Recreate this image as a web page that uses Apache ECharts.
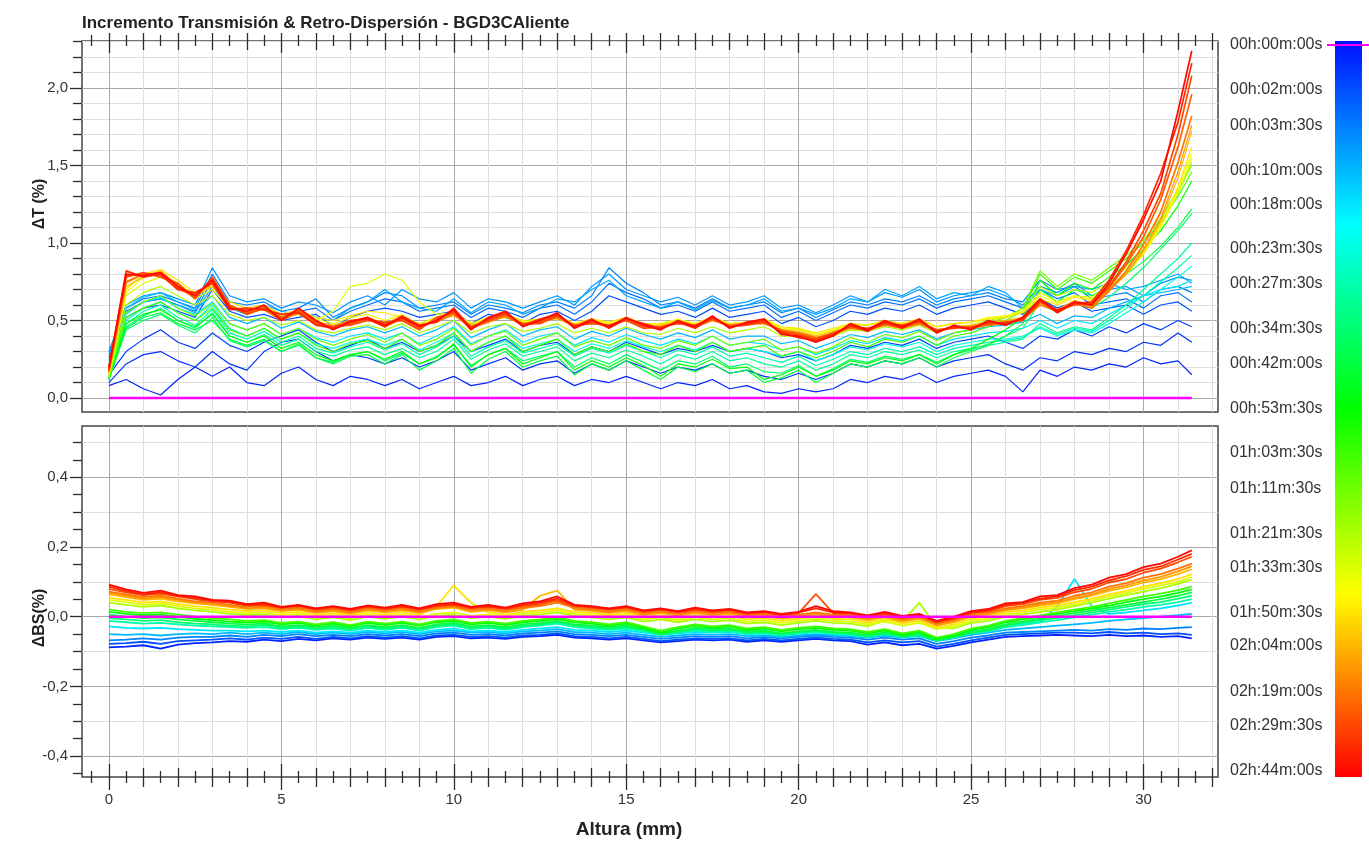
<!DOCTYPE html>
<html>
<head>
<meta charset="utf-8">
<title>Incremento Transmisión & Retro-Dispersión - BGD3CAliente</title>
<script src="https://cdn.jsdelivr.net/npm/echarts@6/dist/echarts.min.js"></script>
<style>
html, body { margin: 0; padding: 0; background: #fff; }
#main { width: 1369px; height: 841px; }
</style>
</head>
<body>
<div id="main"></div>
<script>
// Altura (mm) de cada punto de medida
const heights = [
  0, 0.5, 1, 1.5, 2, 2.5, 3, 3.5, 4, 4.5, 5, 5.5, 6, 6.5, 7, 7.5,
  8, 8.5, 9, 9.5, 10, 10.5, 11, 11.5, 12, 12.5, 13, 13.5, 14, 14.5, 15, 15.5,
  16, 16.5, 17, 17.5, 18, 18.5, 19, 19.5, 20, 20.5, 21, 21.5, 22, 22.5, 23, 23.5,
  24, 24.5, 25, 25.5, 26, 26.5, 27, 27.5, 28, 28.5, 29, 29.5, 30, 30.5, 31, 31.4
];

// escala de tiempos (etiquetas de la barra de color)
const scanLabels = ['00h:00m:00s', '00h:02m:00s', '00h:03m:30s', '00h:10m:00s', '00h:18m:00s',
  '00h:23m:30s', '00h:27m:30s', '00h:34m:30s', '00h:42m:00s', '00h:53m:30s', '01h:03m:30s',
  '01h:11m:30s', '01h:21m:30s', '01h:33m:30s', '01h:50m:30s', '02h:04m:00s', '02h:19m:00s',
  '02h:29m:30s', '02h:44m:00s'];
const scanLabelMin = [0, 2, 3.5, 10, 18, 23.5, 27.5, 34.5, 42, 53.5, 63.5, 71.5, 81.5, 93.5, 110.5, 124, 139, 149.5, 164];

// barrido de referencia (00h:00m:00s)
const ref_000 = [
  0, 0, 0, 0, 0, 0, 0, 0, 0, 0, 0, 0, 0, 0, 0, 0,
  0, 0, 0, 0, 0, 0, 0, 0, 0, 0, 0, 0, 0, 0, 0, 0,
  0, 0, 0, 0, 0, 0, 0, 0, 0, 0, 0, 0, 0, 0, 0, 0,
  0, 0, 0, 0, 0, 0, 0, 0, 0, 0, 0, 0, 0, 0, 0, 0
];

// ΔT (%) por barrido
const dT_0m30 = [
  0.08,0.12,0.06,0.02,0.12,0.20,0.14,0.20,0.10,0.08,0.16,0.20,0.12,0.08,0.14,0.12,
  0.08,0.12,0.06,0.10,0.14,0.08,0.10,0.14,0.08,0.12,0.14,0.08,0.12,0.10,0.14,0.10,
  0.06,0.10,0.08,0.12,0.06,0.08,0.04,0.03,0.06,0.04,0.06,0.12,0.10,0.14,0.12,0.16,
  0.10,0.14,0.16,0.18,0.14,0.04,0.18,0.14,0.20,0.18,0.22,0.20,0.26,0.22,0.24,0.15
];
const dT_1m00 = [
  0.10,0.22,0.28,0.30,0.24,0.20,0.30,0.22,0.18,0.30,0.36,0.38,0.30,0.24,0.28,0.26,
  0.22,0.26,0.20,0.24,0.30,0.18,0.22,0.26,0.18,0.22,0.24,0.16,0.22,0.18,0.24,0.20,
  0.16,0.20,0.18,0.22,0.16,0.18,0.14,0.12,0.16,0.12,0.16,0.22,0.20,0.24,0.22,0.26,
  0.20,0.24,0.26,0.28,0.22,0.18,0.26,0.24,0.30,0.28,0.32,0.30,0.36,0.34,0.42,0.36
];
const dT_1m30 = [
  0.15,0.30,0.38,0.44,0.36,0.32,0.42,0.34,0.30,0.36,0.40,0.44,0.36,0.30,0.34,0.38,
  0.32,0.36,0.30,0.34,0.40,0.30,0.34,0.38,0.30,0.34,0.36,0.28,0.33,0.30,0.36,0.32,
  0.28,0.32,0.30,0.34,0.30,0.32,0.30,0.26,0.28,0.24,0.28,0.34,0.32,0.36,0.34,0.38,
  0.32,0.36,0.38,0.40,0.36,0.32,0.40,0.38,0.44,0.40,0.46,0.42,0.48,0.44,0.50,0.46
];
const dT_2m00 = [
  0.24,0.52,0.58,0.60,0.56,0.52,0.70,0.56,0.52,0.54,0.50,0.52,0.54,0.46,0.52,0.56,
  0.58,0.56,0.52,0.54,0.56,0.48,0.54,0.52,0.48,0.54,0.56,0.50,0.56,0.66,0.62,0.58,
  0.54,0.56,0.52,0.58,0.52,0.54,0.56,0.48,0.52,0.46,0.50,0.56,0.54,0.58,0.56,0.60,
  0.54,0.58,0.60,0.62,0.58,0.54,0.64,0.58,0.62,0.56,0.58,0.60,0.54,0.60,0.62,0.56
];
const dT_3m00 = [
  0.26,0.56,0.62,0.64,0.60,0.56,0.76,0.60,0.56,0.58,0.54,0.56,0.58,0.50,0.56,0.60,
  0.64,0.62,0.56,0.58,0.60,0.52,0.58,0.56,0.52,0.58,0.60,0.54,0.62,0.74,0.68,0.64,
  0.58,0.60,0.56,0.62,0.56,0.58,0.60,0.52,0.56,0.50,0.55,0.60,0.58,0.62,0.60,0.64,
  0.58,0.62,0.64,0.66,0.62,0.58,0.70,0.64,0.68,0.60,0.62,0.64,0.58,0.66,0.68,0.62
];
const dT_4m00 = [
  0.28,0.58,0.64,0.66,0.62,0.58,0.80,0.62,0.60,0.62,0.56,0.58,0.64,0.52,0.58,0.62,
  0.68,0.66,0.58,0.60,0.62,0.54,0.60,0.58,0.55,0.60,0.62,0.58,0.66,0.84,0.74,0.68,
  0.60,0.62,0.58,0.64,0.58,0.60,0.62,0.55,0.58,0.52,0.57,0.62,0.60,0.64,0.62,0.66,
  0.60,0.64,0.66,0.68,0.64,0.62,0.76,0.70,0.72,0.64,0.66,0.68,0.62,0.70,0.72,0.68
];
const dT_6m00 = [
  0.30,0.60,0.66,0.68,0.64,0.60,0.84,0.66,0.62,0.64,0.58,0.62,0.60,0.55,0.62,0.66,
  0.60,0.70,0.64,0.62,0.68,0.58,0.64,0.62,0.58,0.62,0.66,0.60,0.72,0.80,0.70,0.66,
  0.62,0.65,0.60,0.66,0.60,0.62,0.66,0.58,0.60,0.55,0.60,0.66,0.62,0.68,0.65,0.70,
  0.62,0.66,0.68,0.70,0.66,0.60,0.72,0.68,0.74,0.66,0.70,0.72,0.66,0.74,0.78,0.76
];
const dT_8m00 = [
  0.22,0.55,0.62,0.64,0.60,0.55,0.72,0.58,0.54,0.60,0.56,0.54,0.52,0.50,0.58,0.62,
  0.70,0.62,0.58,0.56,0.64,0.55,0.62,0.60,0.54,0.58,0.64,0.62,0.70,0.76,0.66,0.62,
  0.58,0.62,0.57,0.63,0.58,0.60,0.64,0.56,0.58,0.54,0.58,0.64,0.62,0.70,0.66,0.72,
  0.64,0.68,0.66,0.72,0.68,0.58,0.70,0.66,0.72,0.70,0.74,0.70,0.72,0.76,0.80,0.74
];
const dT_10m00 = [
  0.16,0.58,0.65,0.68,0.62,0.57,0.66,0.52,0.48,0.52,0.45,0.49,0.43,0.40,0.44,0.46,
  0.42,0.46,0.40,0.44,0.50,0.39,0.44,0.48,0.40,0.44,0.46,0.38,0.43,0.40,0.45,0.41,
  0.38,0.42,0.39,0.44,0.38,0.40,0.40,0.35,0.37,0.32,0.36,0.41,0.39,0.43,0.41,0.44,
  0.38,0.42,0.44,0.46,0.47,0.49,0.54,0.48,0.53,0.52,0.58,0.62,0.66,0.68,0.70,0.72
];
const dT_18m00 = [
  0.15,0.54,0.62,0.65,0.58,0.54,0.62,0.48,0.44,0.48,0.41,0.45,0.39,0.36,0.40,0.42,
  0.38,0.42,0.35,0.40,0.46,0.35,0.40,0.44,0.36,0.40,0.42,0.34,0.39,0.36,0.41,0.37,
  0.34,0.38,0.35,0.40,0.34,0.36,0.35,0.31,0.33,0.28,0.32,0.37,0.35,0.39,0.37,0.40,
  0.34,0.38,0.40,0.42,0.43,0.45,0.50,0.45,0.50,0.48,0.54,0.60,0.66,0.70,0.72,0.76
];
const dT_23m30 = [
  0.14,0.50,0.58,0.62,0.55,0.50,0.60,0.45,0.40,0.45,0.38,0.42,0.35,0.32,0.36,0.38,
  0.34,0.38,0.31,0.36,0.42,0.30,0.36,0.40,0.32,0.35,0.38,0.30,0.35,0.32,0.37,0.33,
  0.30,0.34,0.31,0.36,0.30,0.32,0.30,0.27,0.30,0.24,0.28,0.33,0.31,0.35,0.33,0.36,
  0.30,0.34,0.36,0.38,0.38,0.40,0.45,0.40,0.44,0.42,0.48,0.55,0.62,0.70,0.78,0.85
];
const dT_27m30 = [
  0.14,0.48,0.56,0.60,0.52,0.47,0.57,0.42,0.38,0.43,0.36,0.40,0.32,0.29,0.33,0.36,
  0.31,0.35,0.28,0.33,0.40,0.27,0.33,0.37,0.29,0.32,0.35,0.27,0.32,0.29,0.34,0.30,
  0.26,0.31,0.28,0.33,0.27,0.29,0.26,0.23,0.27,0.21,0.25,0.30,0.28,0.32,0.30,0.33,
  0.28,0.32,0.34,0.36,0.37,0.39,0.46,0.41,0.45,0.43,0.50,0.58,0.66,0.75,0.84,0.92
];
const dT_30m00 = [
  0.13,0.46,0.53,0.58,0.50,0.45,0.55,0.40,0.36,0.41,0.34,0.38,0.30,0.27,0.31,0.33,
  0.28,0.32,0.26,0.30,0.38,0.25,0.31,0.35,0.27,0.30,0.33,0.24,0.29,0.26,0.31,0.27,
  0.22,0.28,0.25,0.30,0.24,0.26,0.22,0.20,0.24,0.18,0.22,0.28,0.26,0.30,0.28,0.31,
  0.26,0.30,0.32,0.34,0.36,0.38,0.48,0.42,0.46,0.44,0.52,0.60,0.70,0.80,0.90,1.00
];
const dT_34m30 = [
  0.12,0.44,0.50,0.54,0.47,0.42,0.52,0.37,0.33,0.37,0.30,0.34,0.26,0.23,0.28,0.30,
  0.24,0.29,0.22,0.27,0.34,0.21,0.28,0.32,0.24,0.27,0.30,0.20,0.26,0.22,0.28,0.23,
  0.18,0.24,0.22,0.27,0.20,0.22,0.17,0.16,0.21,0.14,0.19,0.25,0.23,0.27,0.25,0.28,
  0.23,0.28,0.31,0.35,0.40,0.45,0.62,0.55,0.62,0.58,0.65,0.74,0.84,0.96,1.08,1.19
];
const dT_42m00 = [
  0.12,0.45,0.52,0.55,0.48,0.44,0.50,0.38,0.34,0.38,0.30,0.35,0.26,0.22,0.27,0.28,
  0.22,0.28,0.18,0.24,0.32,0.16,0.25,0.30,0.20,0.24,0.27,0.15,0.22,0.18,0.24,0.18,
  0.12,0.20,0.17,0.22,0.16,0.18,0.10,0.13,0.18,0.10,0.16,0.22,0.20,0.24,0.22,0.26,
  0.20,0.26,0.30,0.34,0.40,0.48,0.70,0.62,0.70,0.66,0.72,0.80,0.88,0.98,1.10,1.22
];
const dT_53m30 = [
  0.12,0.48,0.54,0.57,0.50,0.46,0.54,0.40,0.36,0.40,0.32,0.36,0.28,0.24,0.28,0.30,
  0.25,0.30,0.22,0.26,0.35,0.20,0.28,0.32,0.22,0.26,0.30,0.18,0.24,0.20,0.26,0.21,
  0.14,0.22,0.20,0.25,0.19,0.20,0.12,0.15,0.20,0.14,0.18,0.24,0.22,0.26,0.24,0.28,
  0.22,0.28,0.32,0.38,0.44,0.52,0.76,0.66,0.74,0.70,0.78,0.86,0.96,1.08,1.24,1.40
];
const dT_63m30 = [
  0.13,0.52,0.58,0.62,0.55,0.50,0.58,0.44,0.40,0.45,0.38,0.42,0.34,0.30,0.35,0.37,
  0.32,0.38,0.30,0.34,0.42,0.30,0.36,0.40,0.30,0.34,0.38,0.28,0.33,0.30,0.35,0.30,
  0.28,0.34,0.30,0.36,0.30,0.32,0.34,0.27,0.30,0.26,0.30,0.36,0.33,0.38,0.36,0.40,
  0.34,0.40,0.42,0.46,0.50,0.56,0.80,0.70,0.78,0.74,0.82,0.90,1.00,1.14,1.30,1.46
];
const dT_71m30 = [
  0.13,0.55,0.62,0.66,0.58,0.53,0.61,0.48,0.44,0.48,0.41,0.45,0.38,0.34,0.38,0.41,
  0.36,0.42,0.34,0.38,0.45,0.34,0.40,0.43,0.34,0.38,0.42,0.33,0.37,0.34,0.39,0.34,
  0.32,0.37,0.34,0.40,0.34,0.36,0.38,0.31,0.33,0.29,0.33,0.39,0.36,0.41,0.39,0.43,
  0.37,0.42,0.44,0.48,0.52,0.58,0.82,0.72,0.80,0.76,0.84,0.92,1.02,1.16,1.34,1.50
];
const dT_81m30 = [
  0.14,0.60,0.68,0.72,0.66,0.60,0.66,0.54,0.50,0.52,0.47,0.50,0.44,0.42,0.45,0.47,
  0.44,0.48,0.42,0.46,0.50,0.42,0.46,0.48,0.43,0.45,0.48,0.42,0.45,0.42,0.46,0.42,
  0.41,0.45,0.42,0.46,0.42,0.44,0.46,0.40,0.40,0.37,0.40,0.44,0.43,0.46,0.44,0.47,
  0.42,0.46,0.47,0.50,0.52,0.56,0.72,0.66,0.70,0.68,0.75,0.84,0.96,1.12,1.32,1.52
];
const dT_93m30 = [
  0.15,0.66,0.74,0.78,0.72,0.64,0.70,0.58,0.55,0.57,0.52,0.55,0.50,0.56,0.72,0.74,
  0.80,0.76,0.62,0.54,0.55,0.48,0.52,0.53,0.49,0.50,0.52,0.47,0.50,0.48,0.51,0.47,
  0.47,0.50,0.47,0.51,0.47,0.48,0.50,0.45,0.44,0.41,0.44,0.47,0.47,0.49,0.48,0.50,
  0.46,0.48,0.49,0.51,0.53,0.56,0.68,0.62,0.66,0.65,0.73,0.80,0.93,1.10,1.32,1.55
];
const dT_100m00 = [
  0.15,0.68,0.78,0.80,0.74,0.66,0.72,0.60,0.56,0.59,0.53,0.56,0.51,0.48,0.52,0.54,
  0.50,0.54,0.47,0.52,0.55,0.48,0.51,0.54,0.49,0.51,0.53,0.48,0.51,0.48,0.52,0.48,
  0.48,0.51,0.48,0.52,0.48,0.49,0.51,0.45,0.45,0.41,0.44,0.48,0.47,0.50,0.48,0.51,
  0.46,0.48,0.49,0.52,0.53,0.56,0.66,0.61,0.66,0.64,0.72,0.80,0.93,1.10,1.34,1.58
];
const dT_110m30 = [
  0.15,0.70,0.80,0.83,0.76,0.68,0.72,0.62,0.58,0.60,0.54,0.57,0.52,0.50,0.53,0.56,
  0.55,0.52,0.48,0.52,0.54,0.48,0.51,0.54,0.50,0.51,0.52,0.48,0.51,0.49,0.52,0.48,
  0.48,0.50,0.48,0.52,0.48,0.49,0.51,0.46,0.45,0.42,0.45,0.48,0.47,0.50,0.48,0.51,
  0.46,0.48,0.49,0.51,0.52,0.55,0.64,0.60,0.65,0.63,0.72,0.80,0.94,1.12,1.36,1.62
];
const dT_124m00 = [
  0.16,0.72,0.78,0.82,0.73,0.66,0.72,0.60,0.55,0.58,0.52,0.54,0.49,0.47,0.50,0.52,
  0.48,0.53,0.46,0.51,0.53,0.47,0.50,0.52,0.48,0.50,0.51,0.47,0.50,0.47,0.50,0.46,
  0.47,0.49,0.47,0.51,0.46,0.48,0.50,0.44,0.43,0.40,0.43,0.46,0.45,0.48,0.46,0.49,
  0.44,0.46,0.47,0.49,0.50,0.52,0.62,0.57,0.63,0.60,0.70,0.80,0.95,1.14,1.42,1.72
];
const dT_131m00 = [
  0.17,0.74,0.80,0.81,0.72,0.66,0.75,0.59,0.56,0.58,0.51,0.55,0.49,0.46,0.49,0.51,
  0.47,0.52,0.46,0.50,0.55,0.46,0.50,0.53,0.47,0.50,0.53,0.46,0.50,0.46,0.51,0.46,
  0.46,0.49,0.46,0.51,0.46,0.48,0.49,0.43,0.42,0.39,0.42,0.46,0.45,0.48,0.46,0.49,
  0.43,0.46,0.46,0.48,0.49,0.52,0.61,0.56,0.62,0.59,0.69,0.80,0.96,1.16,1.46,1.76
];
const dT_139m00 = [
  0.17,0.75,0.80,0.80,0.70,0.67,0.74,0.58,0.57,0.57,0.50,0.55,0.50,0.45,0.48,0.51,
  0.46,0.51,0.47,0.49,0.54,0.45,0.49,0.53,0.47,0.49,0.52,0.46,0.49,0.46,0.51,0.47,
  0.45,0.49,0.46,0.50,0.47,0.48,0.48,0.44,0.42,0.39,0.41,0.45,0.44,0.47,0.45,0.48,
  0.43,0.46,0.45,0.47,0.48,0.51,0.60,0.56,0.61,0.58,0.69,0.82,0.99,1.20,1.52,1.82
];
const dT_144m00 = [
  0.18,0.79,0.80,0.79,0.71,0.65,0.77,0.59,0.55,0.59,0.51,0.57,0.49,0.45,0.48,0.51,
  0.48,0.51,0.45,0.51,0.56,0.45,0.51,0.55,0.47,0.49,0.54,0.46,0.49,0.46,0.51,0.46,
  0.45,0.49,0.46,0.52,0.46,0.48,0.50,0.42,0.41,0.37,0.41,0.47,0.44,0.49,0.46,0.50,
  0.43,0.46,0.45,0.49,0.48,0.51,0.63,0.56,0.61,0.60,0.71,0.86,1.04,1.28,1.62,1.96
];
const dT_149m30 = [
  0.18,0.78,0.81,0.78,0.74,0.64,0.78,0.60,0.54,0.58,0.52,0.56,0.48,0.46,0.47,0.50,
  0.49,0.50,0.44,0.52,0.55,0.46,0.50,0.54,0.48,0.48,0.53,0.47,0.48,0.47,0.50,0.45,
  0.46,0.48,0.47,0.51,0.46,0.47,0.49,0.43,0.41,0.38,0.42,0.46,0.45,0.48,0.47,0.49,
  0.44,0.45,0.46,0.48,0.49,0.50,0.62,0.57,0.60,0.61,0.72,0.88,1.08,1.32,1.70,2.08
];
const dT_157m00 = [
  0.19,0.82,0.78,0.80,0.70,0.68,0.74,0.57,0.58,0.57,0.54,0.55,0.47,0.45,0.50,0.51,
  0.46,0.53,0.47,0.49,0.58,0.45,0.51,0.55,0.47,0.51,0.54,0.46,0.51,0.45,0.51,0.48,
  0.45,0.49,0.45,0.52,0.46,0.48,0.50,0.42,0.39,0.37,0.41,0.47,0.43,0.49,0.45,0.50,
  0.43,0.46,0.45,0.49,0.48,0.51,0.63,0.55,0.61,0.62,0.76,0.95,1.18,1.45,1.78,2.16
];
const dT_164m00 = [
  0.20,0.80,0.79,0.81,0.72,0.66,0.76,0.58,0.56,0.60,0.50,0.58,0.50,0.44,0.49,0.52,
  0.47,0.52,0.46,0.50,0.57,0.44,0.52,0.56,0.46,0.50,0.55,0.45,0.50,0.46,0.52,0.47,
  0.44,0.50,0.46,0.53,0.45,0.49,0.51,0.41,0.40,0.36,0.40,0.48,0.44,0.50,0.46,0.51,
  0.42,0.47,0.44,0.50,0.47,0.52,0.64,0.56,0.62,0.60,0.74,0.93,1.15,1.40,1.85,2.24
];

// ΔBS (%) por barrido
const dBS_0m30 = [
  -0.088,-0.086,-0.082,-0.092,-0.080,-0.076,-0.074,-0.070,-0.072,-0.066,-0.070,-0.064,-0.068,-0.062,-0.066,-0.060,
  -0.064,-0.060,-0.066,-0.058,-0.056,-0.062,-0.060,-0.064,-0.058,-0.056,-0.052,-0.060,-0.062,-0.066,-0.062,-0.068,
  -0.074,-0.070,-0.066,-0.068,-0.066,-0.072,-0.068,-0.072,-0.068,-0.064,-0.068,-0.070,-0.080,-0.074,-0.082,-0.078,
  -0.092,-0.084,-0.074,-0.066,-0.058,-0.056,-0.054,-0.052,-0.054,-0.056,-0.052,-0.056,-0.054,-0.058,-0.056,-0.062
];
const dBS_2m00 = [
  -0.078,-0.076,-0.072,-0.078,-0.070,-0.068,-0.066,-0.062,-0.066,-0.060,-0.064,-0.058,-0.064,-0.058,-0.062,-0.056,
  -0.060,-0.056,-0.062,-0.054,-0.052,-0.058,-0.056,-0.060,-0.054,-0.052,-0.048,-0.056,-0.058,-0.062,-0.058,-0.064,
  -0.070,-0.066,-0.062,-0.064,-0.062,-0.068,-0.064,-0.068,-0.064,-0.060,-0.064,-0.066,-0.074,-0.068,-0.074,-0.070,
  -0.086,-0.078,-0.068,-0.060,-0.052,-0.050,-0.048,-0.046,-0.046,-0.048,-0.044,-0.048,-0.046,-0.050,-0.048,-0.052
];
const dBS_4m00 = [
  -0.068,-0.066,-0.062,-0.066,-0.060,-0.058,-0.058,-0.054,-0.058,-0.052,-0.056,-0.050,-0.056,-0.052,-0.056,-0.050,
  -0.054,-0.050,-0.056,-0.048,-0.046,-0.052,-0.050,-0.054,-0.048,-0.046,-0.042,-0.050,-0.052,-0.056,-0.052,-0.058,
  -0.064,-0.060,-0.056,-0.058,-0.056,-0.062,-0.058,-0.062,-0.058,-0.054,-0.058,-0.060,-0.066,-0.060,-0.066,-0.062,
  -0.078,-0.070,-0.060,-0.054,-0.046,-0.044,-0.042,-0.040,-0.038,-0.040,-0.036,-0.038,-0.034,-0.036,-0.032,-0.030
];
const dBS_10m00 = [
  -0.050,-0.052,-0.050,-0.054,-0.050,-0.048,-0.050,-0.046,-0.050,-0.046,-0.050,-0.044,-0.050,-0.046,-0.050,-0.044,
  -0.048,-0.044,-0.050,-0.042,-0.040,-0.046,-0.044,-0.048,-0.042,-0.040,-0.036,-0.044,-0.046,-0.050,-0.046,-0.052,
  -0.058,-0.054,-0.050,-0.052,-0.050,-0.056,-0.054,-0.058,-0.054,-0.050,-0.054,-0.056,-0.060,-0.054,-0.060,-0.056,
  -0.070,-0.062,-0.052,-0.046,-0.038,-0.034,-0.030,-0.026,-0.022,-0.018,-0.012,-0.008,-0.004,0.000,0.004,0.008
];
const dBS_18m00 = [
  -0.028,-0.032,-0.034,-0.032,-0.036,-0.038,-0.040,-0.040,-0.042,-0.040,-0.044,-0.040,-0.046,-0.042,-0.046,-0.040,
  -0.044,-0.040,-0.046,-0.038,-0.034,-0.042,-0.040,-0.044,-0.038,-0.034,-0.030,-0.038,-0.040,-0.044,-0.040,-0.046,
  -0.052,-0.048,-0.044,-0.046,-0.044,-0.050,-0.048,-0.052,-0.048,-0.044,-0.048,-0.050,-0.054,-0.046,-0.054,-0.050,
  -0.062,-0.054,-0.044,-0.038,-0.028,-0.022,-0.016,0.030,0.108,0.030,0.008,0.012,0.018,0.024,0.032,0.040
];
const dBS_27m30 = [
  -0.012,-0.016,-0.020,-0.018,-0.022,-0.026,-0.028,-0.030,-0.032,-0.030,-0.036,-0.032,-0.038,-0.034,-0.040,-0.032,
  -0.038,-0.032,-0.040,-0.030,-0.026,-0.036,-0.032,-0.038,-0.030,-0.026,-0.020,-0.030,-0.034,-0.038,-0.034,-0.042,
  -0.050,-0.046,-0.040,-0.044,-0.042,-0.050,-0.048,-0.054,-0.048,-0.044,-0.050,-0.052,-0.058,-0.050,-0.058,-0.054,
  -0.068,-0.060,-0.048,-0.042,-0.030,-0.024,-0.016,-0.010,-0.002,0.006,0.014,0.020,0.028,0.034,0.042,0.050
];
const dBS_34m30 = [
  -0.004,-0.008,-0.012,-0.010,-0.016,-0.020,-0.022,-0.026,-0.028,-0.024,-0.032,-0.028,-0.034,-0.030,-0.036,-0.028,
  -0.034,-0.028,-0.036,-0.026,-0.022,-0.032,-0.028,-0.034,-0.026,-0.022,-0.016,-0.026,-0.030,-0.034,-0.030,-0.038,
  -0.046,-0.044,-0.036,-0.040,-0.038,-0.046,-0.044,-0.050,-0.044,-0.040,-0.046,-0.048,-0.056,-0.048,-0.056,-0.052,
  -0.068,-0.058,-0.046,-0.040,-0.026,-0.018,-0.010,-0.004,0.004,0.012,0.020,0.028,0.036,0.042,0.052,0.060
];
const dBS_42m00 = [
  0.006,0.000,-0.004,-0.002,-0.008,-0.012,-0.016,-0.020,-0.022,-0.020,-0.028,-0.024,-0.030,-0.026,-0.032,-0.024,
  -0.030,-0.024,-0.032,-0.022,-0.018,-0.028,-0.024,-0.030,-0.022,-0.018,-0.012,-0.022,-0.026,-0.030,-0.026,-0.036,
  -0.052,-0.040,-0.032,-0.036,-0.034,-0.042,-0.040,-0.048,-0.042,-0.038,-0.044,-0.046,-0.054,-0.046,-0.056,-0.050,
  -0.068,-0.058,-0.044,-0.036,-0.022,-0.014,-0.006,0.002,0.010,0.018,0.026,0.034,0.042,0.050,0.060,0.070
];
const dBS_53m30 = [
  0.014,0.008,0.004,0.006,0.000,-0.006,-0.010,-0.014,-0.016,-0.014,-0.022,-0.018,-0.026,-0.020,-0.028,-0.018,
  -0.024,-0.018,-0.026,-0.016,-0.012,-0.022,-0.018,-0.024,-0.016,-0.012,-0.006,-0.016,-0.020,-0.026,-0.020,-0.032,
  -0.046,-0.034,-0.026,-0.032,-0.028,-0.038,-0.034,-0.042,-0.036,-0.032,-0.038,-0.040,-0.048,-0.040,-0.052,-0.044,
  -0.064,-0.054,-0.038,-0.030,-0.016,-0.008,0.000,0.008,0.016,0.024,0.032,0.042,0.050,0.058,0.068,0.078
];
const dBS_63m30 = [
  0.020,0.014,0.010,0.012,0.006,0.000,-0.004,-0.008,-0.012,-0.010,-0.018,-0.014,-0.022,-0.016,-0.024,-0.014,
  -0.020,-0.014,-0.022,-0.012,-0.008,-0.018,-0.014,-0.020,-0.012,-0.008,-0.002,-0.012,-0.016,-0.022,-0.016,-0.028,
  -0.040,-0.030,-0.022,-0.028,-0.024,-0.034,-0.030,-0.038,-0.032,-0.028,-0.034,-0.036,-0.044,-0.036,-0.048,-0.040,
  -0.060,-0.050,-0.034,-0.026,-0.012,-0.004,0.004,0.012,0.020,0.028,0.038,0.048,0.058,0.066,0.076,0.086
];
const dBS_81m30 = [
  0.040,0.034,0.028,0.032,0.024,0.018,0.014,0.008,0.004,0.006,-0.002,0.002,-0.008,-0.002,-0.010,0.000,
  -0.006,0.000,-0.008,0.002,0.006,-0.004,0.000,-0.006,0.002,0.006,0.012,0.002,-0.002,-0.008,-0.002,-0.014,
  -0.008,-0.016,-0.008,-0.014,-0.010,-0.020,-0.016,-0.024,-0.018,-0.012,-0.018,-0.020,-0.028,-0.010,-0.014,0.040,
  -0.030,-0.034,-0.018,-0.012,0.000,0.006,0.014,0.020,0.030,0.040,0.052,0.062,0.072,0.082,0.094,0.106
];
const dBS_93m30 = [
  0.048,0.042,0.034,0.038,0.030,0.024,0.020,0.014,0.010,0.012,0.004,0.008,-0.002,0.004,-0.004,0.006,
  0.000,0.006,-0.002,0.008,0.012,0.002,0.006,0.000,0.008,0.012,0.018,0.008,0.004,-0.002,0.004,-0.008,
  -0.002,-0.010,-0.002,-0.008,-0.004,-0.014,-0.010,-0.018,-0.012,-0.006,-0.012,-0.014,-0.022,-0.014,-0.026,-0.018,
  -0.036,-0.028,-0.012,-0.006,0.006,0.012,0.020,0.026,0.036,0.046,0.058,0.068,0.080,0.090,0.100,0.114
];
const dBS_110m30 = [
  0.054,0.048,0.040,0.044,0.036,0.030,0.026,0.020,0.016,0.018,0.010,0.014,0.004,0.010,0.002,0.012,
  0.006,0.012,0.004,0.030,0.090,0.040,0.012,0.006,0.014,0.018,0.024,0.014,0.010,0.004,0.010,-0.002,
  0.004,-0.004,0.004,-0.002,0.002,-0.008,-0.004,-0.012,-0.006,0.000,-0.006,-0.008,-0.016,-0.008,-0.020,-0.012,
  -0.032,-0.022,-0.006,0.000,0.012,0.018,0.026,0.032,0.042,0.052,0.064,0.074,0.086,0.096,0.108,0.122
];
const dBS_124m00 = [
  0.064,0.056,0.048,0.052,0.044,0.038,0.034,0.028,0.022,0.024,0.016,0.020,0.010,0.016,0.008,0.018,
  0.012,0.018,0.010,0.022,0.026,0.014,0.018,0.012,0.020,0.060,0.075,0.020,0.016,0.010,0.016,0.004,
  0.010,0.002,0.010,0.004,0.008,-0.002,0.002,-0.006,0.000,0.006,0.000,-0.002,-0.010,-0.002,-0.014,-0.006,
  -0.026,-0.016,0.000,0.006,0.018,0.024,0.032,0.038,0.050,0.060,0.074,0.084,0.098,0.108,0.122,0.136
];
const dBS_131m00 = [
  0.068,0.060,0.052,0.056,0.048,0.040,0.036,0.030,0.024,0.026,0.018,0.022,0.012,0.018,0.010,0.020,
  0.014,0.020,0.012,0.024,0.028,0.016,0.020,0.014,0.022,0.034,0.050,0.022,0.018,0.012,0.018,0.006,
  0.012,0.004,0.012,0.006,0.010,0.000,0.004,-0.004,0.002,0.008,0.002,0.000,-0.008,0.000,-0.012,-0.004,
  -0.024,-0.014,0.002,0.008,0.020,0.026,0.036,0.042,0.054,0.064,0.080,0.090,0.104,0.114,0.130,0.144
];
const dBS_139m00 = [
  0.072,0.064,0.056,0.060,0.052,0.044,0.040,0.034,0.028,0.030,0.022,0.026,0.016,0.022,0.014,0.024,
  0.018,0.024,0.016,0.026,0.030,0.020,0.024,0.018,0.026,0.030,0.040,0.026,0.022,0.016,0.022,0.010,
  0.016,0.008,0.016,0.010,0.014,0.004,0.008,0.000,0.006,0.012,0.006,0.004,-0.004,0.004,-0.008,0.000,
  -0.020,-0.010,0.006,0.012,0.024,0.030,0.040,0.046,0.060,0.070,0.086,0.096,0.112,0.122,0.138,0.152
];
const dBS_149m30 = [
  0.080,0.070,0.062,0.066,0.058,0.050,0.044,0.040,0.032,0.034,0.026,0.030,0.020,0.026,0.018,0.028,
  0.022,0.028,0.020,0.030,0.034,0.024,0.028,0.022,0.030,0.036,0.046,0.030,0.026,0.020,0.026,0.014,
  0.020,0.012,0.020,0.014,0.018,0.008,0.012,0.004,0.010,0.065,0.010,0.008,0.000,0.008,-0.004,0.004,
  -0.016,-0.006,0.010,0.016,0.030,0.036,0.048,0.054,0.070,0.080,0.098,0.108,0.126,0.138,0.156,0.172
];
const dBS_157m00 = [
  0.086,0.074,0.064,0.070,0.060,0.054,0.046,0.042,0.034,0.036,0.026,0.032,0.022,0.028,0.020,0.030,
  0.024,0.030,0.022,0.032,0.036,0.026,0.030,0.024,0.034,0.040,0.052,0.032,0.028,0.022,0.028,0.016,
  0.022,0.014,0.022,0.016,0.020,0.010,0.014,0.006,0.012,0.024,0.012,0.010,0.002,0.010,-0.002,0.006,
  -0.014,-0.004,0.012,0.018,0.034,0.040,0.052,0.058,0.076,0.086,0.104,0.116,0.134,0.144,0.164,0.180
];
const dBS_164m00 = [
  0.092,0.078,0.068,0.075,0.062,0.058,0.048,0.046,0.036,0.040,0.028,0.034,0.024,0.030,0.022,0.032,
  0.026,0.034,0.024,0.036,0.040,0.028,0.034,0.026,0.038,0.044,0.058,0.034,0.030,0.024,0.030,0.018,
  0.024,0.016,0.026,0.018,0.022,0.012,0.016,0.008,0.014,0.030,0.016,0.012,0.004,0.014,0.002,0.008,
  -0.012,0.000,0.016,0.022,0.038,0.042,0.058,0.062,0.082,0.092,0.112,0.122,0.142,0.152,0.172,0.190
];

// barridos: [minutos, valores]
const transScans = [
  [0.5, dT_0m30], [1, dT_1m00], [1.5, dT_1m30], [2, dT_2m00], [3, dT_3m00], [4, dT_4m00],
  [6, dT_6m00], [8, dT_8m00], [10, dT_10m00], [18, dT_18m00], [23.5, dT_23m30], [27.5, dT_27m30],
  [30, dT_30m00], [34.5, dT_34m30], [42, dT_42m00], [53.5, dT_53m30], [63.5, dT_63m30],
  [71.5, dT_71m30], [81.5, dT_81m30], [93.5, dT_93m30], [100, dT_100m00], [110.5, dT_110m30],
  [124, dT_124m00], [131, dT_131m00], [139, dT_139m00], [144, dT_144m00], [149.5, dT_149m30],
  [157, dT_157m00], [164, dT_164m00]
];
const backScans = [
  [0.5, dBS_0m30], [2, dBS_2m00], [4, dBS_4m00], [10, dBS_10m00], [18, dBS_18m00], [27.5, dBS_27m30],
  [34.5, dBS_34m30], [42, dBS_42m00], [53.5, dBS_53m30], [63.5, dBS_63m30], [81.5, dBS_81m30],
  [93.5, dBS_93m30], [110.5, dBS_110m30], [124, dBS_124m00], [131, dBS_131m00], [139, dBS_139m00],
  [149.5, dBS_149m30], [157, dBS_157m00], [164, dBS_164m00]
];

transScans.concat(backScans).forEach(function (s) {
  if (s[1].length !== heights.length) throw new Error('scan ' + s[0] + ' has ' + s[1].length + ' values');
});

// ---- layout ----
const FONT = '"Liberation Sans", Arial, Helvetica, sans-serif';
const X_MIN = -0.78, X_MAX = 32.16;
const barX = 1335, barTop = 41, barW = 27, barH = 736;
const labelY = [45, 90, 126, 171, 205, 249, 284, 329, 364, 409, 453, 489, 534, 568, 613, 646, 692, 726, 771];

// tiempo -> posicion en la barra -> color (escala jet)
function timeFrac(t) {
  for (let i = 1; i < scanLabelMin.length; i++) {
    if (t <= scanLabelMin[i]) {
      const a = scanLabelMin[i - 1], b = scanLabelMin[i];
      const y = labelY[i - 1] + (labelY[i] - labelY[i - 1]) * (t - a) / (b - a);
      return (y - barTop) / barH;
    }
  }
  return 1;
}
const jetStops = [[0, [0, 16, 255]], [0.25, [0, 255, 255]], [0.5, [0, 255, 0]], [0.75, [255, 255, 0]], [1, [255, 0, 0]]];
function jet(f) {
  f = Math.max(0, Math.min(1, f));
  for (let i = 1; i < jetStops.length; i++) {
    if (f <= jetStops[i][0]) {
      const p = (f - jetStops[i - 1][0]) / (jetStops[i][0] - jetStops[i - 1][0]);
      const c0 = jetStops[i - 1][1], c1 = jetStops[i][1];
      return 'rgb(' + [0, 1, 2].map(k => Math.round(c0[k] + (c1[k] - c0[k]) * p)).join(',') + ')';
    }
  }
  return 'rgb(255,0,0)';
}

function vals(a, b, step) {
  const out = [];
  for (let k = Math.round(a / step); k <= Math.round(b / step); k++) out.push(+(k * step).toFixed(3));
  return out;
}
const xFive = vals(0, 30, 5);
const xInt = vals(0, 32, 1).filter(v => v % 5 !== 0);
const xHalf = vals(-0.5, 32, 0.5).filter(v => v % 1 !== 0);
const yTopMajor = [0, 0.5, 1, 1.5, 2];
const yTopMinor = vals(0, 2.3, 0.1).filter(v => Math.abs(v * 2 - Math.round(v * 2)) > 1e-6);
const yBotMajor = [-0.4, -0.2, 0, 0.2, 0.4];
const yBotGrid = [-0.3, -0.1, 0.1, 0.3, 0.5];
const yBotMinor = [-0.45, -0.35, -0.25, -0.15, -0.05, 0.05, 0.15, 0.25, 0.35, 0.45];

const darkLine = { color: '#a9a9a9', width: 1 };
const lightLine = { color: '#dedede', width: 1 };
const tickStyle = { color: '#2b2b2b', width: 1.3 };
const comma = v => v.toFixed(1).replace('.', ',');

function xTicks(grid, pos, values, offset, len, split) {
  return {
    type: 'value', gridIndex: grid, position: pos, min: X_MIN, max: X_MAX, offset: offset,
    axisLine: { show: false, onZero: false },
    axisTick: { show: true, customValues: values, length: len, inside: false, lineStyle: tickStyle },
    axisLabel: { show: false },
    splitLine: split ? { show: true, lineStyle: split } : { show: false }
  };
}
function yTicks(grid, min, max, values, len, split, labels) {
  return {
    type: 'value', gridIndex: grid, position: 'left', min: min, max: max, offset: 0,
    axisLine: { show: false, onZero: false },
    axisTick: { show: true, customValues: values, length: len, inside: false, lineStyle: tickStyle },
    axisLabel: labels ? {
      show: true, customValues: values, formatter: comma, margin: 14,
      fontSize: 15, color: '#333', fontFamily: FONT
    } : { show: false },
    splitLine: split ? { show: true, lineStyle: split } : { show: false }
  };
}

const series = [];
transScans.forEach(function (s) {
  series.push({
    type: 'line', xAxisIndex: 0, yAxisIndex: 0, showSymbol: false, symbol: 'none', silent: true,
    data: heights.map((h, i) => [h, s[1][i]]),
    lineStyle: { color: jet(timeFrac(s[0])), width: s[0] >= 139 ? 1.7 : 1.2 }, z: 2
  });
});
backScans.forEach(function (s) {
  series.push({
    type: 'line', xAxisIndex: 3, yAxisIndex: 2, showSymbol: false, symbol: 'none', silent: true,
    data: heights.map((h, i) => [h, s[1][i]]),
    lineStyle: { color: jet(timeFrac(s[0])), width: 1.8 }, z: 2
  });
});
[[0, 0], [3, 2]].forEach(function (ax) {
  series.push({
    type: 'line', xAxisIndex: ax[0], yAxisIndex: ax[1], showSymbol: false, symbol: 'none', silent: true,
    data: heights.map((h, i) => [h, ref_000[i]]),
    lineStyle: { color: '#ff00ff', width: 2.5 }, z: 3
  });
});

const graphic = [
  {
    type: 'rect', shape: { x: barX, y: barTop, width: barW, height: barH }, silent: true,
    style: {
      fill: new echarts.graphic.LinearGradient(0, 0, 0, 1,
        jetStops.map(s => ({ offset: s[0], color: 'rgb(' + s[1].join(',') + ')' })))
    }
  },
  { type: 'line', shape: { x1: 1327, y1: labelY[0], x2: 1369, y2: labelY[0] }, style: { stroke: '#ff00ff', lineWidth: 2 }, silent: true },
  { type: 'text', x: 40, y: 204, rotation: Math.PI / 2, silent: true,
    style: { text: 'ΔT (%)', font: 'bold 16px ' + FONT, fill: '#222', align: 'center', verticalAlign: 'middle' } },
  { type: 'text', x: 40, y: 618, rotation: Math.PI / 2, silent: true,
    style: { text: 'ΔBS(%)', font: 'bold 16px ' + FONT, fill: '#222', align: 'center', verticalAlign: 'middle' } },
  { type: 'text', x: 629, y: 830, silent: true,
    style: { text: 'Altura (mm)', font: 'bold 19px ' + FONT, fill: '#222', align: 'center', verticalAlign: 'middle' } }
];
scanLabels.forEach(function (txt, i) {
  graphic.push({ type: 'text', x: 1230, y: labelY[i], silent: true,
    style: { text: txt, font: '16px ' + FONT, fill: '#333', align: 'left', verticalAlign: 'middle' } });
});

const chart = echarts.init(document.getElementById('main'));
chart.setOption({
  animation: false,
  backgroundColor: '#fff',
  textStyle: { fontFamily: FONT },
  title: {
    text: 'Incremento Transmisión & Retro-Dispersión - BGD3CAliente', left: 77, top: 10,
    textStyle: { fontSize: 17, fontWeight: 'bold', color: '#222', fontFamily: FONT }
  },
  grid: [
    { left: 82, top: 41, width: 1136, height: 371, show: true, borderColor: '#444', borderWidth: 1.5, backgroundColor: 'transparent' },
    { left: 82, top: 426, width: 1136, height: 351, show: true, borderColor: '#444', borderWidth: 1.5, backgroundColor: 'transparent' }
  ],
  xAxis: [
    xTicks(0, 'top', xFive, -12, 20, darkLine),
    xTicks(0, 'top', xInt, -9, 17, lightLine),
    xTicks(0, 'top', xHalf, -5, 11, null),
    xTicks(1, 'bottom', xFive, -13, 26, darkLine),
    xTicks(1, 'bottom', xInt, -9, 19, lightLine),
    xTicks(1, 'bottom', xHalf, -6, 12, null),
    {
      type: 'value', gridIndex: 1, position: 'bottom', min: X_MIN, max: X_MAX, offset: 0,
      axisLine: { show: false, onZero: false }, axisTick: { show: false }, splitLine: { show: false },
      axisLabel: { show: true, customValues: xFive, margin: 15, fontSize: 15, color: '#333', fontFamily: FONT }
    }
  ],
  yAxis: [
    yTicks(0, -0.09, 2.303, yTopMajor, 12, darkLine, true),
    yTicks(0, -0.09, 2.303, yTopMinor, 9, lightLine, false),
    yTicks(1, -0.46, 0.547, yBotMajor, 12, darkLine, true),
    yTicks(1, -0.46, 0.547, yBotGrid, 9, lightLine, false),
    yTicks(1, -0.46, 0.547, yBotMinor, 9, null, false)
  ],
  graphic: graphic,
  series: series
});
</script>
</body>
</html>
